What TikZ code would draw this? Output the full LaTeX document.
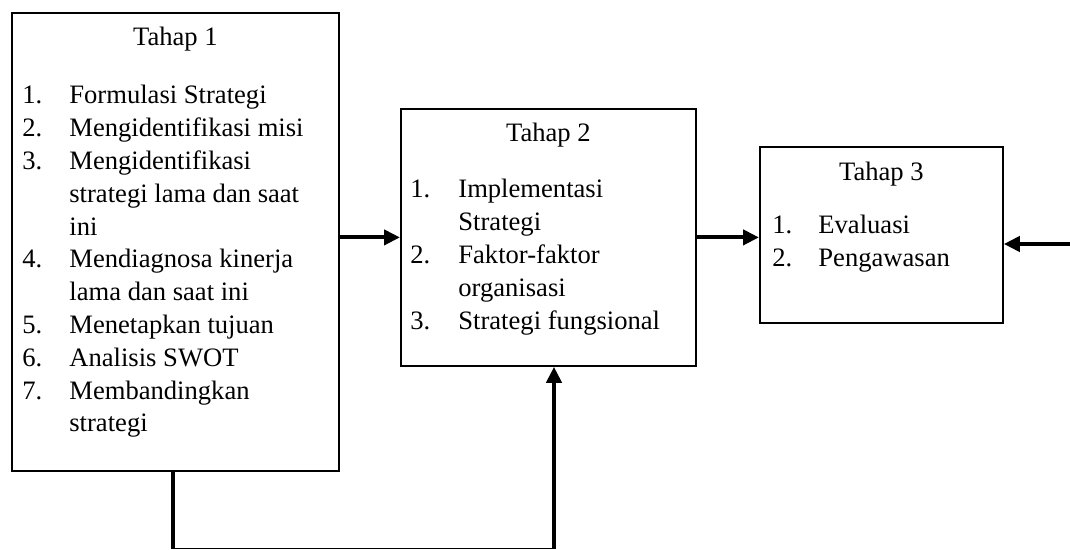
\documentclass[tikz,border=0pt]{standalone}
\usepackage{fontspec}
\setmainfont{Liberation Serif}
\usetikzlibrary{arrows.meta,calc}

\begin{document}
\begin{tikzpicture}[x=0.5pt,y=-0.5pt,
    font=\fontsize{13.3}{16.4}\selectfont,
    tahap/.style={draw,line width=0.9pt,rectangle,anchor=north west,inner sep=0pt},
    judul/.style={anchor=base,inner sep=0pt},
    daftar/.style={anchor=base west,inner sep=0pt},
    panah/.style={line width=2.1pt,-{Triangle[length=8pt,width=7.5pt]}},
    garis/.style={line width=2pt}]
    \useasboundingbox (0,0) rectangle (1070,550);
    % tahap 1
    \node[tahap,minimum width=163.5pt,minimum height=229pt] (t1) at (11,12) {};
    \node[judul] (h1) at ($(t1.north)+(0,34)$) {Tahap 1};
    \node[daftar] (d1) at ($(t1.north west)+(11,92)$) {\begin{tabular}[t]{@{}p{23.5pt}@{}l@{}}
        1. & Formulasi Strategi\\
        2. & Mengidentifikasi misi\\
        3. & Mengidentifikasi\\
           & strategi lama dan saat\\
           & ini\\
        4. & Mendiagnosa kinerja\\
           & lama dan saat ini\\
        5. & Menetapkan tujuan\\
        6. & Analisis SWOT\\
        7. & Membandingkan\\
           & strategi
    \end{tabular}};
    % tahap 2
    \node[tahap,minimum width=147.5pt,minimum height=128.5pt] (t2) at (400,108) {};
    \node[judul] (h2) at ($(t2.north)+(0,34)$) {Tahap 2};
    \node[daftar] (d2) at ($(t2.north west)+(10,90)$) {\begin{tabular}[t]{@{}p{24pt}@{}l@{}}
        1. & Implementasi\\
           & Strategi\\
        2. & Faktor-faktor\\
           & organisasi\\
        3. & Strategi fungsional
    \end{tabular}};
    % tahap 3
    \node[tahap,minimum width=121.5pt,minimum height=88pt] (t3) at (759,146) {};
    \node[judul] (h3) at ($(t3.north)+(0,35)$) {Tahap 3};
    \node[daftar] (d3) at ($(t3.north west)+(13,88)$) {\begin{tabular}[t]{@{}p{23pt}@{}l@{}}
        1. & Evaluasi\\
        2. & Pengawasan
    \end{tabular}};
    % panah
    \draw[panah] (t1.east |- t2.west) -- (t2.west);
    \draw[panah] (t2.east) -- (t2.east -| t3.west);
    \coordinate (masuk) at (1070,244);
    \draw[panah] (masuk) -- (masuk -| t3.east);
    \coordinate (b1) at (173,548.5);
    \coordinate (b2) at (554,548.5);
    \draw[garis] (t1.south -| b1) -- (b1);
    \draw[line width=0.8pt] (b1) -- (b2);
    \draw[panah] (b2) -- (b2 |- t2.south);
\end{tikzpicture}
\end{document}
